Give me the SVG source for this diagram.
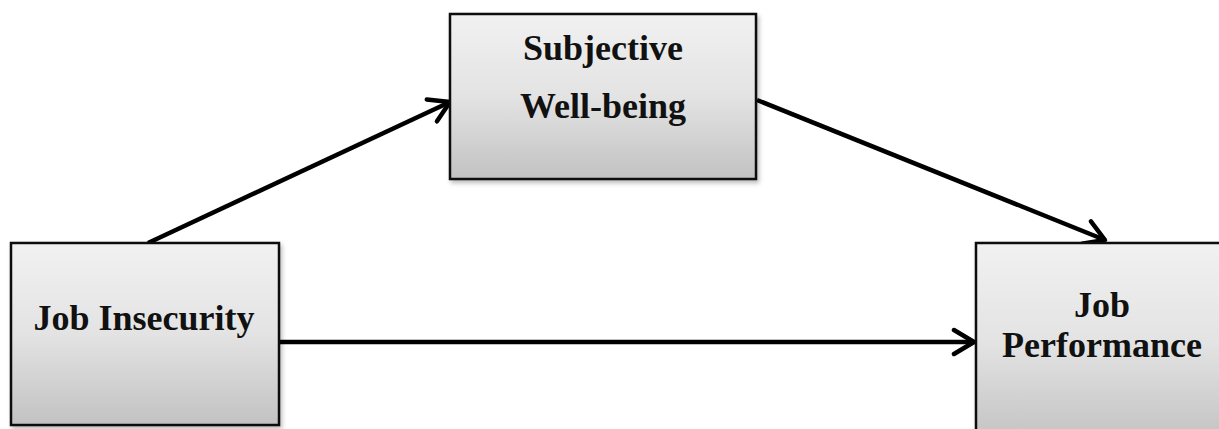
<svg xmlns="http://www.w3.org/2000/svg" width="1219" height="429" viewBox="0 0 1219 429">
<style>
.box{fill:url(#g);stroke:#111;stroke-width:2.5;filter:url(#sh)}
.lbl{font-family:"Liberation Serif","Times New Roman",serif;font-weight:bold;font-size:36px;fill:#111;text-anchor:middle}
.con{stroke:#000;stroke-width:4.5;fill:none;marker-end:url(#ah)}
</style>
<defs>
<linearGradient id="g" x1="0" y1="0" x2="0" y2="1">
<stop offset="0" stop-color="#f2f1f1"/>
<stop offset="0.5" stop-color="#e4e3e3"/>
<stop offset="1" stop-color="#c2c2c2"/>
</linearGradient>
<filter id="sh" x="-5%" y="-5%" width="115%" height="115%">
<feDropShadow dx="2" dy="3" stdDeviation="2" flood-color="#000" flood-opacity="0.25"/>
</filter>
<marker id="ah" viewBox="-24 -15 27 30" refX="0" refY="0" markerWidth="27" markerHeight="30" markerUnits="userSpaceOnUse" orient="auto">
<path d="M-20,-12 L0,0 L-20,12" fill="none" stroke="#000" stroke-width="4.5" stroke-linejoin="round" stroke-linecap="round"/>
</marker>
</defs>
<rect width="1219" height="429" fill="#fff"/>
<g id="connectors">
<line class="con" x1="148" y1="243" x2="450" y2="102"/>
<line class="con" x1="757" y1="100" x2="1105" y2="240"/>
<line class="con" x1="280" y1="342" x2="974" y2="342"/>
</g>
<g id="node-swb">
<rect class="box" x="450" y="14" width="306" height="165"/>
<text class="lbl" x="603" y="60">Subjective</text>
<text class="lbl" x="603" y="118">Well-being</text>
</g>
<g id="node-ji">
<rect class="box" x="11" y="243" width="268" height="182"/>
<text class="lbl" x="144" y="330">Job Insecurity</text>
</g>
<g id="node-jp">
<rect class="box" x="976" y="243" width="260" height="200"/>
<text class="lbl" x="1102" y="317">Job</text>
<text class="lbl" x="1102" y="357">Performance</text>
</g>
</svg>
